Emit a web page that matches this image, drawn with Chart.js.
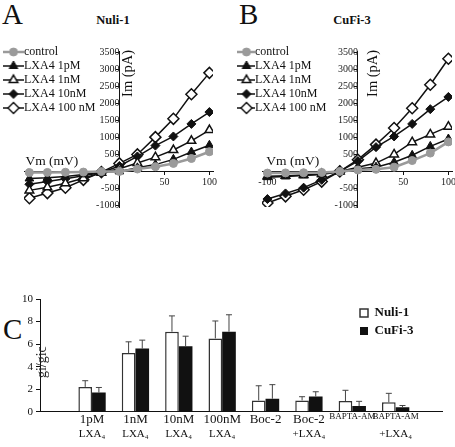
<!DOCTYPE html>
<html>
<head>
<meta charset="utf-8">
<script src="https://cdn.jsdelivr.net/npm/chart.js@4.4.0/dist/chart.umd.min.js"></script>
<style>
  html, body { margin: 0; padding: 0; background: #fff; overflow: hidden; }
  body { width: 455px; height: 447px; position: relative; font-family: 'Liberation Serif', 'Times New Roman', serif; color: #111; }
  canvas { position: absolute; }
  .letter { position: absolute; font-size: 29px; line-height: 29px; }
  .title { position: absolute; width: 70px; text-align: center; font-weight: bold; font-size: 12.5px; line-height: 14px; }
</style>
</head>
<body>
<div class="letter" style="left:2px; top:0px;">A</div>
<div class="letter" style="left:239px; top:0px;">B</div>
<div class="letter" style="left:3px; top:315px;">C</div>
<div class="title" style="left:78px; top:13px;">Nuli-1</div>
<div class="title" style="left:317px; top:13px;">CuFi-3</div>
<canvas id="nuli" width="230" height="230" style="left:0; top:0;"></canvas>
<canvas id="cufi" width="240" height="230" style="left:225px; top:0;"></canvas>
<canvas id="ratio" width="455" height="167" style="left:0; top:280px;"></canvas>
<script>
// I-V curves (pA) at each holding potential
const vm = [-100, -80, -60, -40, -20, 0, 20, 40, 60, 80, 100];
const seriesNames = ['control', 'LXA4 1pM', 'LXA4 1nM', 'LXA4 10nM', 'LXA4 100 nM'];

const nuliControl = [-35, -30, -25, -20, -5, 0, 70, 140, 235, 380, 580];
const nuli1pM = [-210, -190, -150, -90, -20, 0, 105, 200, 355, 570, 770];
const nuli1nM = [-560, -470, -350, -200, -40, 80, 250, 420, 630, 900, 1220];
const nuli10nM = [-380, -300, -220, -130, -30, 160, 440, 760, 1030, 1400, 1750];
const nuli100nM = [-790, -640, -480, -250, -20, 235, 500, 1010, 1550, 2275, 2905];

const cufiControl = [-50, -45, -40, -30, 0, 40, 60, 125, 320, 540, 870];
const cufi1pM = [-170, -150, -120, -90, 0, 75, 125, 270, 475, 737, 955];
const cufi1nM = [-140, -130, -110, -80, 0, 125, 245, 500, 860, 1090, 1320];
const cufi10nM = [-815, -650, -480, -250, 0, 305, 715, 1030, 1400, 1835, 2195];
const cufi100nM = [-930, -735, -540, -300, 0, 345, 790, 1280, 1860, 2555, 3320];

const ivTicksY = [-1000, -500, 500, 1000, 1500, 2000, 2500, 3000, 3500];
const nuliTicksX = [50, 100];
const cufiTicksX = [-100, 50, 100];

// conductance ratio, panel C
const groupTop = ['1pM', '1nM', '10nM', '100nM', 'Boc-2', 'Boc-2', 'BAPTA-AM', 'BAPTA-AM'];
const groupSub = ['LXA₄', 'LXA₄', 'LXA₄', 'LXA₄', '', '+LXA₄', '', '+LXA₄'];
const nuliRatio = [2.2, 5.2, 7.1, 6.5, 1.0, 1.0, 0.95, 0.83];
const nuliErr = [0.55, 1.0, 1.4, 1.55, 1.3, 0.33, 0.95, 0.8];
const cufiRatio = [1.7, 5.6, 5.8, 7.1, 1.15, 1.35, 0.5, 0.4];
const cufiErr = [0.45, 0.75, 0.9, 1.5, 1.25, 0.42, 0.42, 0.15];
const ratioTicks = [0, 2, 4, 6, 8, 10];

Chart.defaults.font.family = "'Liberation Serif', 'Times New Roman', serif";
Chart.defaults.color = '#111';

const markStyles = [
  {borderColor: '#9a9a9a', borderWidth: 2.5, pointStyle: 'circle', pointRadius: 4, pointBackgroundColor: '#9a9a9a', pointBorderColor: '#9a9a9a', pointBorderWidth: 1},
  {borderColor: '#111', borderWidth: 1.5, pointStyle: 'triangle', pointRadius: 5, pointBackgroundColor: '#111', pointBorderColor: '#111', pointBorderWidth: 1},
  {borderColor: '#111', borderWidth: 1.5, pointStyle: 'triangle', pointRadius: 5, pointBackgroundColor: '#fff', pointBorderColor: '#111', pointBorderWidth: 1.5},
  {borderColor: '#111', borderWidth: 1.5, pointStyle: 'rectRot', pointRadius: 4.5, pointBackgroundColor: '#111', pointBorderColor: '#111', pointBorderWidth: 1},
  {borderColor: '#111', borderWidth: 1.5, pointStyle: 'rectRot', pointRadius: 5.5, pointBackgroundColor: '#fff', pointBorderColor: '#111', pointBorderWidth: 1.5}
];

// legend icon: short line with the marker on it
function makeIcon(ds, w) {
  const c = document.createElement('canvas');
  c.width = w; c.height = 14;
  const g = c.getContext('2d');
  g.strokeStyle = ds.borderColor;
  g.lineWidth = ds.borderWidth;
  g.beginPath(); g.moveTo(0, 7); g.lineTo(w, 7); g.stroke();
  g.fillStyle = ds.pointBackgroundColor;
  g.strokeStyle = ds.pointBorderColor;
  g.lineWidth = ds.pointBorderWidth;
  Chart.helpers.drawPoint(g, {pointStyle: ds.pointStyle, radius: ds.pointRadius, borderWidth: ds.pointBorderWidth, rotation: 0}, Math.round(w * 0.6), 7);
  return c;
}

// move the legend box to a fixed spot
function legendAt(left, top) {
  return {
    id: 'legendAt',
    afterLayout(chart) {
      const lg = chart.legend;
      const w = lg.right - lg.left, h = lg.bottom - lg.top;
      lg.left = left; lg.right = left + w;
      lg.top = top; lg.bottom = top + h;
    }
  };
}

// axis captions placed at data coordinates
function noteText(items) {
  return {
    id: 'noteText',
    afterDraw(chart) {
      const {ctx, scales: {x, y}} = chart;
      items.forEach(it => {
        ctx.save();
        ctx.font = it.font;
        ctx.fillStyle = it.color || '#111';
        ctx.textAlign = 'center';
        ctx.textBaseline = 'middle';
        ctx.translate(x.getPixelForValue(it.x), y.getPixelForValue(it.y));
        if (it.rotate) ctx.rotate(it.rotate);
        ctx.fillText(it.text, 0, 0);
        ctx.restore();
      });
    }
  };
}

const errorBars = {
  id: 'errorBars',
  afterDatasetsDraw(chart) {
    const {ctx} = chart;
    const y = chart.scales.y;
    ctx.save();
    ctx.strokeStyle = '#444';
    ctx.lineWidth = 1;
    chart.data.datasets.forEach((ds, di) => {
      chart.getDatasetMeta(di).data.forEach((bar, i) => {
        const top = y.getPixelForValue(ds.data[i].y + ds.errors[i]);
        ctx.beginPath();
        ctx.moveTo(bar.x, bar.y);
        ctx.lineTo(bar.x, top);
        ctx.moveTo(bar.x - 3, top);
        ctx.lineTo(bar.x + 3, top);
        ctx.stroke();
      });
    });
    ctx.restore();
  }
};

function makeIV(id, values, xTicks, pad, legendPos, icon, notes) {
  const datasets = values.map((vals, k) => Object.assign({
    label: seriesNames[k],
    data: vm.map((v, i) => ({x: v, y: vals[i]})),
    tension: 0,
    fill: false
  }, markStyles[k]));

  return new Chart(document.getElementById(id), {
    type: 'line',
    data: {datasets: datasets},
    options: {
      responsive: false,
      animation: false,
      layout: {padding: pad},
      scales: {
        x: {
          type: 'linear', min: -106, max: 104, position: {y: 0},
          afterBuildTicks: s => { s.ticks = xTicks.map(v => ({value: v})); },
          grid: {drawOnChartArea: false, drawTicks: true, tickLength: 3, color: '#111'},
          border: {color: '#111', width: 1},
          ticks: {callback: v => String(v), font: {size: 10}, color: '#222', padding: 2, maxRotation: 0, autoSkip: false}
        },
        y: {
          type: 'linear', min: -1050, max: 3550, position: {x: 0},
          afterBuildTicks: s => { s.ticks = ivTicksY.map(v => ({value: v})); },
          grid: {drawOnChartArea: false, drawTicks: true, tickLength: 3, color: '#111'},
          border: {color: '#111', width: 1},
          ticks: {callback: v => String(v), font: {size: 10}, color: '#222', padding: 3, autoSkip: false}
        }
      },
      plugins: {
        legend: {
          position: 'chartArea',
          align: 'start',
          labels: {
            usePointStyle: true,
            pointStyleWidth: icon.box,
            boxHeight: 12,
            padding: 2,
            color: '#111',
            font: {size: 12},
            generateLabels: chart => Chart.defaults.plugins.legend.labels.generateLabels(chart).map(l =>
              Object.assign(l, {pointStyle: makeIcon(chart.data.datasets[l.datasetIndex], icon.w)}))
          }
        },
        tooltip: {enabled: false}
      }
    },
    plugins: [legendAt(legendPos[0], legendPos[1]), noteText(notes)]
  });
}

makeIV('nuli', [nuliControl, nuli1pM, nuli1nM, nuli10nM, nuli100nM], nuliTicksX,
  {left: 24, right: 17, top: 51, bottom: 23}, [3, 44], {w: 24, box: 13},
  [{text: 'Im (pA)', x: 10, y: 2890, rotate: -Math.PI / 2, font: "14.5px 'Liberation Serif', serif"},
   {text: 'Vm (mV)', x: -75, y: 300, font: "13.5px 'Liberation Serif', serif"}]);

makeIV('cufi', [cufiControl, cufi1pM, cufi1nM, cufi10nM, cufi100nM], cufiTicksX,
  {left: 37, right: 13, top: 51, bottom: 23}, [12, 44], {w: 21, box: 10},
  [{text: 'Im (pA)', x: 17, y: 2890, rotate: -Math.PI / 2, font: "14.5px 'Liberation Serif', serif"},
   {text: 'Vm (mV)', x: -72, y: 300, font: "13.5px 'Liberation Serif', serif"}]);

const groupIdx = groupTop.map((_, i) => i);

new Chart(document.getElementById('ratio'), {
  type: 'bar',
  data: {
    datasets: [
      {label: 'Nuli-1', data: groupIdx.map(i => ({x: i, y: nuliRatio[i]})), errors: nuliErr,
       backgroundColor: '#fff', borderColor: '#333', borderWidth: 1.5},
      {label: 'CuFi-3', data: groupIdx.map(i => ({x: i, y: cufiRatio[i]})), errors: cufiErr,
       backgroundColor: '#111', borderColor: '#111', borderWidth: 0}
    ]
  },
  options: {
    responsive: false,
    animation: false,
    categoryPercentage: 0.63,
    barPercentage: 1,
    layout: {padding: {left: 0, right: 12.5, top: 19, bottom: 0}},
    scales: {
      x: {
        type: 'linear', min: -0.62, max: 7.5,
        afterBuildTicks: s => { s.ticks = groupIdx.map(v => ({value: v})); },
        afterFit: s => { s.height = 16; },
        grid: {display: false, drawTicks: false},
        border: {color: '#111', width: 1},
        ticks: {
          callback: v => groupTop[v],
          font: c => ({size: c.tick && c.tick.value >= 6 ? 9 : 13}),
          color: '#111', padding: 0, maxRotation: 0, autoSkip: false
        }
      },
      x2: {
        type: 'linear', position: 'bottom', weight: 1, min: -0.62, max: 7.5,
        afterBuildTicks: s => { s.ticks = groupIdx.map(v => ({value: v})); },
        afterFit: s => { s.height = 19.3; },
        grid: {display: false, drawTicks: false},
        border: {display: false},
        ticks: {callback: v => groupSub[v], font: {size: 11}, color: '#111', padding: 0, maxRotation: 0, autoSkip: false}
      },
      y: {
        min: 0, max: 10,
        afterBuildTicks: s => { s.ticks = ratioTicks.map(v => ({value: v})); },
        afterFit: s => { s.width = 40; },
        grid: {drawOnChartArea: false, drawTicks: true, tickLength: 4, color: '#111'},
        border: {color: '#111', width: 1},
        ticks: {font: {size: 11}, color: '#111', padding: 3}
      }
    },
    plugins: {
      legend: {
        position: 'chartArea',
        align: 'start',
        labels: {boxWidth: 8, boxHeight: 8, padding: 5, color: '#111', font: {size: 13, weight: 'bold'}}
      },
      tooltip: {enabled: false}
    }
  },
  plugins: [errorBars, legendAt(355, 21.5),
    noteText([{text: 'gi/gic', x: -1.14, y: 4.4, rotate: -Math.PI / 2, color: '#222', font: "14px 'Liberation Serif', serif"}])]
});
</script>
</body>
</html>
